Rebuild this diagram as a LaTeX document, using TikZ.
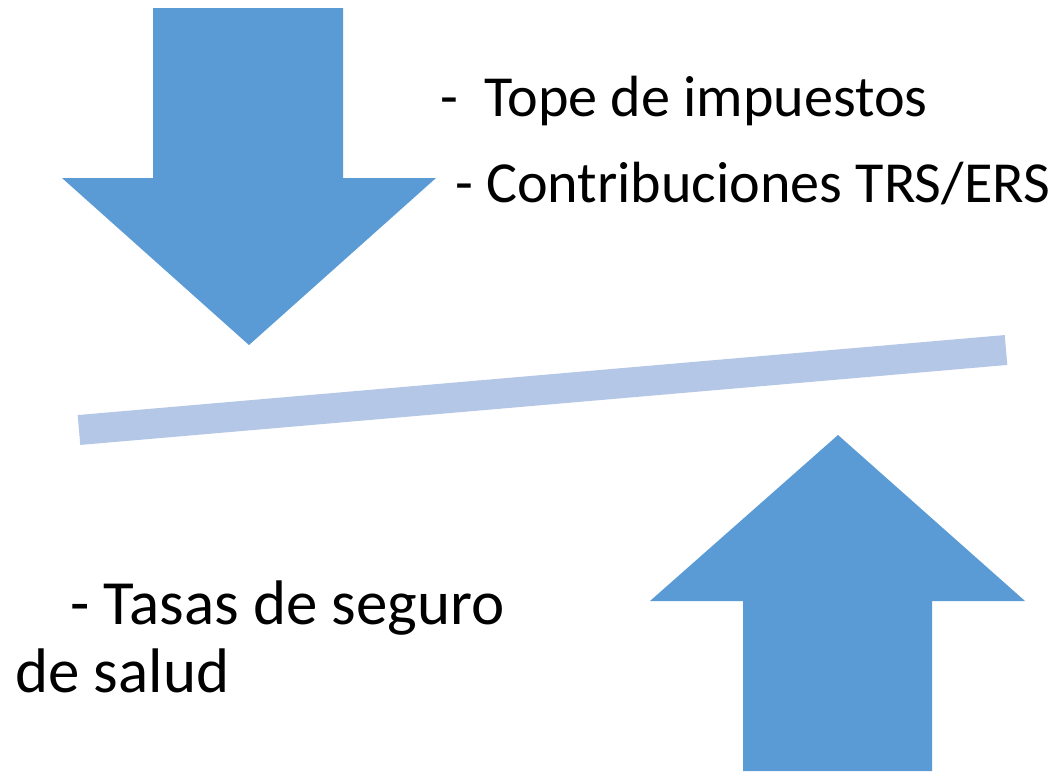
\documentclass[tikz,border=0pt]{standalone}
\usepackage{fontspec}
\setmainfont{Carlito}
\definecolor{arrowblue}{HTML}{5B9BD5}
\definecolor{barblue}{HTML}{B4C7E7}
\begin{document}
\begin{tikzpicture}[x=0.75pt,y=-0.75pt,
  bigarrow/.style={fill=arrowblue,draw=none},
  label/.style={anchor=base west,inner sep=0pt,text=black},
  toplabel/.style={label,font=\fontsize{43.6}{52}\selectfont},
  botlabel/.style={label,font=\fontsize{47.2}{56}\selectfont}]
\useasboundingbox[fill=white] (0,0) rectangle (1056,771);
\fill[bigarrow] (153,8) -- (343,8) -- (343,178) -- (436,178) -- (249,345) -- (62,178) -- (153,178) -- cycle;
\fill[bigarrow] (743,771) -- (932,771) -- (932,601) -- (1025,601) -- (838,435) -- (650,601) -- (743,601) -- cycle;
\coordinate (barL) at (79,430);
\coordinate (barR) at (1006,350);
\draw[barblue,line width=22.5pt] (barL) -- (barR);
\node[toplabel] (t1) at (440,116) {-\ \ Tope de impuestos};
\node[toplabel] (t2) at (455,202) {- Contribuciones TRS/ERS};
\node[botlabel] (t3) at (70,624) {- Tasas de seguro};
\node[botlabel] (t4) at (15,692) {de salud};
\end{tikzpicture}
\end{document}
